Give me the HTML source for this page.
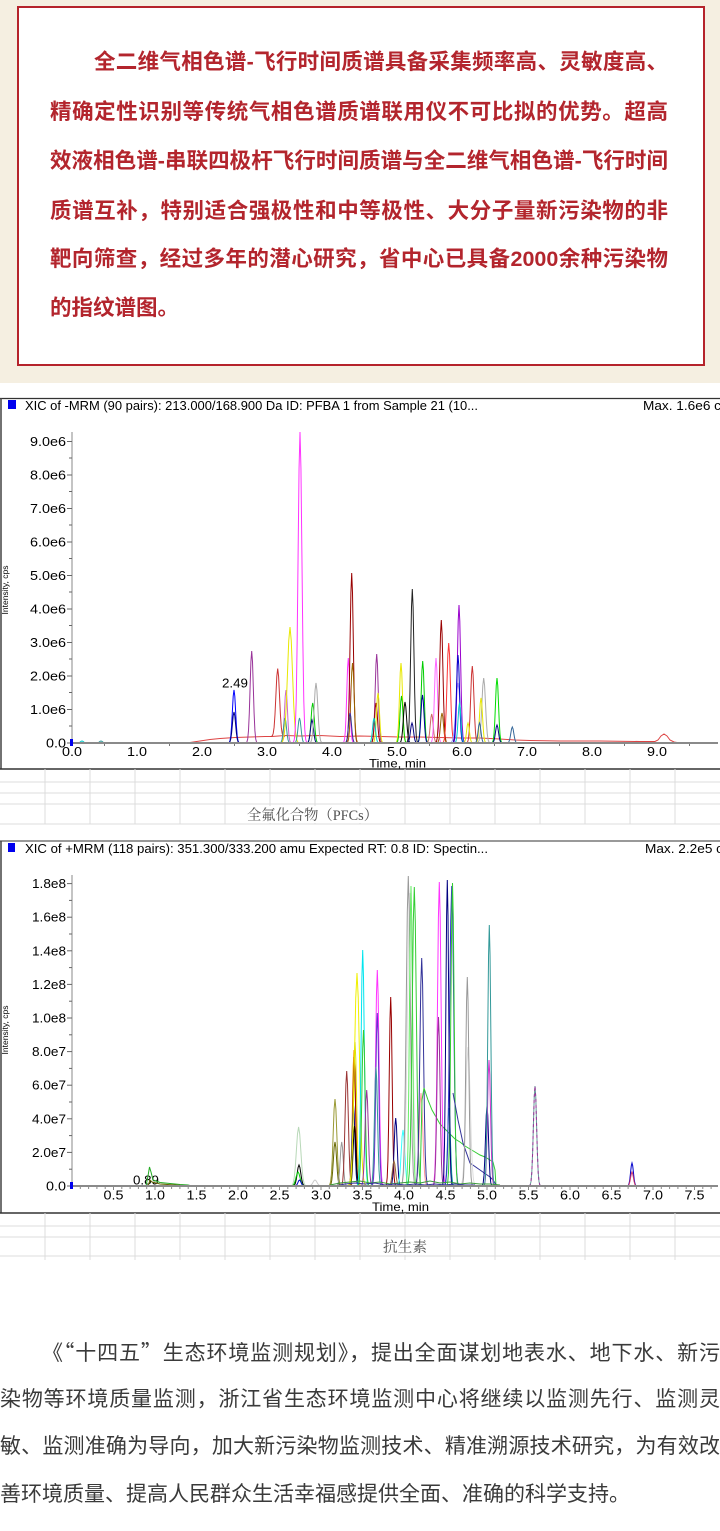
<!DOCTYPE html>
<html>
<head>
<meta charset="utf-8">
<style>
html,body{margin:0;padding:0;}
body{width:720px;height:1531px;position:relative;overflow:hidden;background:#fff;}
.beige{position:absolute;left:0;top:0;width:720px;height:383px;background:#f5efe1;}
.box{position:absolute;left:17px;top:6px;width:684px;height:356px;border:2px solid #b5232b;background:#fff;}
.tl{position:absolute;left:50px;width:618px;height:49px;line-height:49px;font-family:"Liberation Sans","Noto Sans CJK SC",sans-serif;font-weight:700;font-size:21.5px;color:#b3252d;text-align:justify;text-align-last:justify;}
.bl{position:absolute;left:0;width:720px;height:48px;line-height:48px;font-family:"Liberation Sans","Noto Sans CJK SC",sans-serif;font-size:21px;color:#3a3a3a;text-align:justify;text-align-last:justify;}
.cj{font-family:"Noto Sans CJK SC",sans-serif;}
svg{position:absolute;left:0;top:0;}
</style>
</head>
<body>
<div class="beige"></div>
<div class="box"></div>
<div class="tl" style="top:38px;padding-left:44px;width:574px;">全二维气相色谱-飞行时间质谱具备采集频率高、灵敏度高、</div>
<div class="tl" style="top:88px;">精确定性识别等传统气相色谱质谱联用仪不可比拟的优势。超高</div>
<div class="tl" style="top:137px;">效液相色谱-串联四极杆飞行时间质谱与全二维气相色谱-飞行时间</div>
<div class="tl" style="top:187px;">质谱互补，特别适合强极性和中等极性、大分子量新污染物的非</div>
<div class="tl" style="top:235px;">靶向筛查，经过多年的潜心研究，省中心已具备2000余种污染物</div>
<div class="tl" style="top:284px;text-align:left;text-align-last:left;">的指纹谱图。</div>

<svg width="720" height="1531" viewBox="0 0 720 1531" xmlns="http://www.w3.org/2000/svg">
<defs>
<path id="g" d="M-4 0L-3.5 -.002L-3 -.011L-2.5 -.044L-2 -.135L-1.5 -.325L-1 -.607L-.5 -.883L0 -1L.5 -.883L1 -.607L1.5 -.325L2 -.135L2.5 -.044L3 -.011L3.5 -.002L4 0" fill="none" vector-effect="non-scaling-stroke"/>
</defs>

<!-- ================= CHART 1 ================= -->
<g font-family="Liberation Sans, Arial, sans-serif" fill="#000">
<line x1="0" y1="398.5" x2="720" y2="398.5" stroke="#333" stroke-width="1.2"/>
<line x1="1" y1="398" x2="1" y2="769" stroke="#444" stroke-width="1.5"/>
<line x1="0" y1="769" x2="720" y2="769" stroke="#333" stroke-width="1.5"/>
<rect x="8" y="400" width="8" height="9" fill="#0000ee"/>
<text x="25" y="410" font-size="12.5" textLength="453" lengthAdjust="spacingAndGlyphs">XIC of -MRM (90 pairs): 213.000/168.900 Da ID: PFBA 1 from Sample 21 (10...</text>
<text x="643" y="410" font-size="12.5" textLength="78" lengthAdjust="spacingAndGlyphs">Max. 1.6e6 c</text>

<text transform="translate(8 590) rotate(-90)" text-anchor="middle" font-size="8.5">Intensity, cps</text>

<line x1="72" y1="432" x2="72" y2="743" stroke="#888" stroke-width="1"/>
<g stroke="#666" stroke-width="1">
<line x1="67" y1="743" x2="72" y2="743"/><line x1="67" y1="709.5" x2="72" y2="709.5"/><line x1="67" y1="676" x2="72" y2="676"/><line x1="67" y1="642.5" x2="72" y2="642.5"/><line x1="67" y1="609" x2="72" y2="609"/><line x1="67" y1="575.5" x2="72" y2="575.5"/><line x1="67" y1="542" x2="72" y2="542"/><line x1="67" y1="508.5" x2="72" y2="508.5"/><line x1="67" y1="475" x2="72" y2="475"/><line x1="67" y1="441.5" x2="72" y2="441.5"/>
<line x1="69" y1="726" x2="72" y2="726"/><line x1="69" y1="692.5" x2="72" y2="692.5"/><line x1="69" y1="659" x2="72" y2="659"/><line x1="69" y1="625.5" x2="72" y2="625.5"/><line x1="69" y1="592" x2="72" y2="592"/><line x1="69" y1="558.5" x2="72" y2="558.5"/><line x1="69" y1="525" x2="72" y2="525"/><line x1="69" y1="491.5" x2="72" y2="491.5"/><line x1="69" y1="458" x2="72" y2="458"/>
</g>
<g font-size="12.5" text-anchor="end">
<text x="66" y="747.5" textLength="20" lengthAdjust="spacingAndGlyphs">0.0</text>
<text x="66" y="714" textLength="36" lengthAdjust="spacingAndGlyphs">1.0e6</text>
<text x="66" y="680.5" textLength="36" lengthAdjust="spacingAndGlyphs">2.0e6</text>
<text x="66" y="647" textLength="36" lengthAdjust="spacingAndGlyphs">3.0e6</text>
<text x="66" y="613.5" textLength="36" lengthAdjust="spacingAndGlyphs">4.0e6</text>
<text x="66" y="580" textLength="36" lengthAdjust="spacingAndGlyphs">5.0e6</text>
<text x="66" y="546.5" textLength="36" lengthAdjust="spacingAndGlyphs">6.0e6</text>
<text x="66" y="513" textLength="36" lengthAdjust="spacingAndGlyphs">7.0e6</text>
<text x="66" y="479.5" textLength="36" lengthAdjust="spacingAndGlyphs">8.0e6</text>
<text x="66" y="446" textLength="36" lengthAdjust="spacingAndGlyphs">9.0e6</text>
</g>
<g font-size="12.5" text-anchor="middle">
<text x="72" y="756" textLength="20" lengthAdjust="spacingAndGlyphs">0.0</text>
<text x="137" y="756" textLength="20" lengthAdjust="spacingAndGlyphs">1.0</text>
<text x="202" y="756" textLength="20" lengthAdjust="spacingAndGlyphs">2.0</text>
<text x="267" y="756" textLength="20" lengthAdjust="spacingAndGlyphs">3.0</text>
<text x="332" y="756" textLength="20" lengthAdjust="spacingAndGlyphs">4.0</text>
<text x="397" y="756" textLength="20" lengthAdjust="spacingAndGlyphs">5.0</text>
<text x="462" y="756" textLength="20" lengthAdjust="spacingAndGlyphs">6.0</text>
<text x="527" y="756" textLength="20" lengthAdjust="spacingAndGlyphs">7.0</text>
<text x="592" y="756" textLength="20" lengthAdjust="spacingAndGlyphs">8.0</text>
<text x="657" y="756" textLength="20" lengthAdjust="spacingAndGlyphs">9.0</text>
</g>
<text x="369" y="767.5" font-size="12" textLength="57" lengthAdjust="spacingAndGlyphs">Time, min</text>
<text x="222" y="687.5" font-size="12.5" textLength="26" lengthAdjust="spacingAndGlyphs">2.49</text>
</g>

<g stroke-width="1" fill="none">
<use href="#g" transform="translate(82 743) scale(1.5 2)" stroke="#00cccc"/>
<use href="#g" transform="translate(101 743) scale(1.5 2)" stroke="#339999"/>
<path d="M180 743L190 742.5L200 741L210 739.5L220 738.5L235 737.5L250 737L265 736.5L272 736.5L285 735.5L300 736L320 735.5L340 736.5L360 736L380 736.5L400 737L420 737L440 737.5L460 738L480 738L500 739L515 740L530 740.5L560 741L600 741L640 741.5L655 741.5L658 740L661 736L664 734L667 736L670 740L674 742L680 743" stroke="#dd4444"/>
<use href="#g" transform="translate(234 743) scale(1.6 53)" stroke="#0000ff"/>
<use href="#g" transform="translate(234 743) scale(1.6 31)" stroke="#000080"/>
<use href="#g" transform="translate(251.7 743) scale(1.6 92)" stroke="#993399"/>
<use href="#g" transform="translate(277.7 736.5) scale(1.8 68)" stroke="#cc3333"/>
<use href="#g" transform="translate(286 743) scale(1.5 53)" stroke="#cc66cc"/>
<use href="#g" transform="translate(285 743) scale(1.5 25)" stroke="#339999"/>
<use href="#g" transform="translate(290 743) scale(2.5 116)" stroke="#e8e800"/>
<use href="#g" transform="translate(300 743) scale(1.9 311)" stroke="#ff33ff"/>
<use href="#g" transform="translate(299.5 743) scale(1.5 25)" stroke="#339999"/>
<use href="#g" transform="translate(312.7 743) scale(1.6 40)" stroke="#00cc00"/>
<use href="#g" transform="translate(312 743) scale(1.5 23)" stroke="#000080"/>
<use href="#g" transform="translate(316 743) scale(1.8 60)" stroke="#aaaaaa"/>
<use href="#g" transform="translate(348.3 743) scale(1.5 85)" stroke="#ff33ff"/>
<use href="#g" transform="translate(351.7 743) scale(1.6 170)" stroke="#990000"/>
<use href="#g" transform="translate(352.5 743) scale(1.6 80)" stroke="#996600"/>
<use href="#g" transform="translate(350 743) scale(1.5 30)" stroke="#333399"/>
<use href="#g" transform="translate(376.7 743) scale(1.5 89)" stroke="#993399"/>
<use href="#g" transform="translate(376 743) scale(1.5 40)" stroke="#990000"/>
<use href="#g" transform="translate(378 743) scale(1.5 50)" stroke="#e8e800"/>
<use href="#g" transform="translate(374 743) scale(1.4 25)" stroke="#00cccc"/>
<use href="#g" transform="translate(401 743) scale(1.5 80)" stroke="#e8e800"/>
<use href="#g" transform="translate(401.5 743) scale(1.5 47)" stroke="#00cc00"/>
<use href="#g" transform="translate(405 743) scale(1.6 41)" stroke="#000000"/>
<use href="#g" transform="translate(412.3 743) scale(1.6 154)" stroke="#222222"/>
<use href="#g" transform="translate(412 743) scale(1.5 20)" stroke="#000080"/>
<use href="#g" transform="translate(422.7 743) scale(1.5 82)" stroke="#00cc00"/>
<use href="#g" transform="translate(422.5 743) scale(1.5 48)" stroke="#000099"/>
<use href="#g" transform="translate(431.7 743) scale(1.5 29)" stroke="#cc6666"/>
<use href="#g" transform="translate(436 743) scale(1.5 85)" stroke="#ff66ff"/>
<use href="#g" transform="translate(441.3 743) scale(1.6 123)" stroke="#990000"/>
<use href="#g" transform="translate(442 743) scale(1.5 30)" stroke="#996600"/>
<use href="#g" transform="translate(448.7 743) scale(1.7 100)" stroke="#ff3333"/>
<use href="#g" transform="translate(458 743) scale(2.2 60)" stroke="#9999ff"/>
<use href="#g" transform="translate(459 743) scale(1.6 138)" stroke="#9900cc"/>
<use href="#g" transform="translate(458 743) scale(1.5 88)" stroke="#0000cc"/>
<use href="#g" transform="translate(459.5 743) scale(1.4 40)" stroke="#00cccc"/>
<use href="#g" transform="translate(472.3 743) scale(1.6 77)" stroke="#cc3333"/>
<use href="#g" transform="translate(468 743) scale(1.4 20)" stroke="#e8e800"/>
<use href="#g" transform="translate(483.7 743) scale(1.8 65)" stroke="#aaaaaa"/>
<use href="#g" transform="translate(481 743) scale(1.5 45)" stroke="#e8e800"/>
<use href="#g" transform="translate(479.5 743) scale(1.4 20)" stroke="#336699"/>
<use href="#g" transform="translate(497 743) scale(1.5 65)" stroke="#00dd00"/>
<use href="#g" transform="translate(497 743) scale(1.5 18)" stroke="#000080"/>
<use href="#g" transform="translate(512.3 743) scale(1.5 16)" stroke="#336699"/>
</g>
<line x1="72" y1="743" x2="718" y2="743" stroke="#8a8a8a" stroke-width="2"/>
<g stroke="#777" stroke-width="1">
<line x1="104.5" y1="744" x2="104.5" y2="746"/><line x1="169.5" y1="744" x2="169.5" y2="746"/><line x1="234.5" y1="744" x2="234.5" y2="746"/><line x1="299.5" y1="744" x2="299.5" y2="746"/><line x1="364.5" y1="744" x2="364.5" y2="746"/><line x1="429.5" y1="744" x2="429.5" y2="746"/><line x1="494.5" y1="744" x2="494.5" y2="746"/><line x1="559.5" y1="744" x2="559.5" y2="746"/><line x1="624.5" y1="744" x2="624.5" y2="746"/><line x1="689.5" y1="744" x2="689.5" y2="746"/>
</g>
<rect x="70" y="739" width="3" height="7" fill="#0000ee"/>

<!-- grid 1 -->
<g stroke="#dcdcdc" stroke-width="1">
<line x1="0" y1="782" x2="720" y2="782"/><line x1="0" y1="793" x2="720" y2="793"/><line x1="0" y1="804" x2="720" y2="804"/><line x1="0" y1="824" x2="720" y2="824"/>
<line x1="45" y1="769" x2="45" y2="824"/><line x1="90" y1="769" x2="90" y2="824"/><line x1="135" y1="769" x2="135" y2="824"/><line x1="180" y1="769" x2="180" y2="824"/><line x1="225" y1="769" x2="225" y2="824"/><line x1="270" y1="769" x2="270" y2="824"/><line x1="315" y1="769" x2="315" y2="824"/><line x1="360" y1="769" x2="360" y2="824"/><line x1="405" y1="769" x2="405" y2="824"/><line x1="450" y1="769" x2="450" y2="824"/><line x1="495" y1="769" x2="495" y2="824"/><line x1="540" y1="769" x2="540" y2="824"/><line x1="585" y1="769" x2="585" y2="824"/><line x1="630" y1="769" x2="630" y2="824"/><line x1="675" y1="769" x2="675" y2="824"/>
</g>
<rect x="246" y="806" width="134" height="17" fill="#fff"/>
<text x="247" y="820" font-family="Liberation Serif, Noto Serif CJK SC, serif" font-size="14.5" fill="#505050" textLength="131" lengthAdjust="spacingAndGlyphs">全氟化合物（PFCs）</text>

<!-- ================= CHART 2 ================= -->
<g font-family="Liberation Sans, Arial, sans-serif" fill="#000">
<line x1="0" y1="841" x2="720" y2="841" stroke="#999" stroke-width="2"/>
<line x1="1" y1="841" x2="1" y2="1213" stroke="#444" stroke-width="1.5"/>
<line x1="0" y1="1213" x2="720" y2="1213" stroke="#333" stroke-width="1.5"/>
<rect x="8" y="843" width="7" height="9" fill="#0000ee"/>
<text x="25" y="853" font-size="12.5" textLength="463" lengthAdjust="spacingAndGlyphs">XIC of +MRM (118 pairs): 351.300/333.200 amu Expected RT: 0.8 ID: Spectin...</text>
<text x="645" y="853" font-size="12.5" textLength="78" lengthAdjust="spacingAndGlyphs">Max. 2.2e5 c</text>

<text transform="translate(8 1030) rotate(-90)" text-anchor="middle" font-size="8.5">Intensity, cps</text>

<line x1="72" y1="875" x2="72" y2="1186" stroke="#888" stroke-width="1"/>
<g stroke="#666" stroke-width="1">
<line x1="67" y1="1186" x2="72" y2="1186"/><line x1="67" y1="1152.4" x2="72" y2="1152.4"/><line x1="67" y1="1118.8" x2="72" y2="1118.8"/><line x1="67" y1="1085.2" x2="72" y2="1085.2"/><line x1="67" y1="1051.6" x2="72" y2="1051.6"/><line x1="67" y1="1018" x2="72" y2="1018"/><line x1="67" y1="984.4" x2="72" y2="984.4"/><line x1="67" y1="950.8" x2="72" y2="950.8"/><line x1="67" y1="917.2" x2="72" y2="917.2"/><line x1="67" y1="883.6" x2="72" y2="883.6"/>
<line x1="69" y1="1169.2" x2="72" y2="1169.2"/><line x1="69" y1="1135.6" x2="72" y2="1135.6"/><line x1="69" y1="1102" x2="72" y2="1102"/><line x1="69" y1="1068.4" x2="72" y2="1068.4"/><line x1="69" y1="1034.8" x2="72" y2="1034.8"/><line x1="69" y1="1001.2" x2="72" y2="1001.2"/><line x1="69" y1="967.6" x2="72" y2="967.6"/><line x1="69" y1="934" x2="72" y2="934"/><line x1="69" y1="900.4" x2="72" y2="900.4"/>
</g>
<g font-size="12.5" text-anchor="end">
<text x="66" y="1190.5" textLength="20" lengthAdjust="spacingAndGlyphs">0.0</text>
<text x="66" y="1156.9" textLength="34" lengthAdjust="spacingAndGlyphs">2.0e7</text>
<text x="66" y="1123.3" textLength="34" lengthAdjust="spacingAndGlyphs">4.0e7</text>
<text x="66" y="1089.7" textLength="34" lengthAdjust="spacingAndGlyphs">6.0e7</text>
<text x="66" y="1056.1" textLength="34" lengthAdjust="spacingAndGlyphs">8.0e7</text>
<text x="66" y="1022.5" textLength="34" lengthAdjust="spacingAndGlyphs">1.0e8</text>
<text x="66" y="988.9" textLength="34" lengthAdjust="spacingAndGlyphs">1.2e8</text>
<text x="66" y="955.3" textLength="34" lengthAdjust="spacingAndGlyphs">1.4e8</text>
<text x="66" y="921.7" textLength="34" lengthAdjust="spacingAndGlyphs">1.6e8</text>
<text x="66" y="888.1" textLength="34" lengthAdjust="spacingAndGlyphs">1.8e8</text>
</g>
<g font-size="12.5" text-anchor="middle">
<text x="113.5" y="1199.5" textLength="20" lengthAdjust="spacingAndGlyphs">0.5</text>
<text x="155" y="1199.5" textLength="20" lengthAdjust="spacingAndGlyphs">1.0</text>
<text x="196.5" y="1199.5" textLength="20" lengthAdjust="spacingAndGlyphs">1.5</text>
<text x="238" y="1199.5" textLength="20" lengthAdjust="spacingAndGlyphs">2.0</text>
<text x="279.5" y="1199.5" textLength="20" lengthAdjust="spacingAndGlyphs">2.5</text>
<text x="321" y="1199.5" textLength="20" lengthAdjust="spacingAndGlyphs">3.0</text>
<text x="362.5" y="1199.5" textLength="20" lengthAdjust="spacingAndGlyphs">3.5</text>
<text x="404" y="1199.5" textLength="20" lengthAdjust="spacingAndGlyphs">4.0</text>
<text x="445.5" y="1199.5" textLength="20" lengthAdjust="spacingAndGlyphs">4.5</text>
<text x="487" y="1199.5" textLength="20" lengthAdjust="spacingAndGlyphs">5.0</text>
<text x="528.5" y="1199.5" textLength="20" lengthAdjust="spacingAndGlyphs">5.5</text>
<text x="570" y="1199.5" textLength="20" lengthAdjust="spacingAndGlyphs">6.0</text>
<text x="611.5" y="1199.5" textLength="20" lengthAdjust="spacingAndGlyphs">6.5</text>
<text x="653" y="1199.5" textLength="20" lengthAdjust="spacingAndGlyphs">7.0</text>
<text x="694.5" y="1199.5" textLength="20" lengthAdjust="spacingAndGlyphs">7.5</text>
</g>
<text x="372" y="1211" font-size="12" textLength="57" lengthAdjust="spacingAndGlyphs">Time, min</text>
<text x="133" y="1184.5" font-size="12.5" textLength="26" lengthAdjust="spacingAndGlyphs">0.89</text>
</g>

<g stroke-width="1" fill="none">
<path d="M146 1186L148 1176L149.5 1167L151 1172L153 1180L160 1182.5L170 1183.5L180 1184.5L188 1185L192 1186" stroke="#22aa22"/>
<path d="M148 1186L150 1180L152 1182L160 1184L175 1185L190 1186" stroke="#666600"/>
<use href="#g" transform="translate(298.6 1186) scale(2.2 59)" stroke="#b8d8b8"/>
<use href="#g" transform="translate(299 1186) scale(1.8 21)" stroke="#000000"/>
<use href="#g" transform="translate(298 1186) scale(2 14)" stroke="#00cc00"/>
<use href="#g" transform="translate(299.5 1186) scale(1.5 6)" stroke="#0000cc"/>
<use href="#g" transform="translate(315 1186) scale(2 6)" stroke="#cccccc"/>
<use href="#g" transform="translate(335 1186) scale(1.8 87)" stroke="#999933"/>
<use href="#g" transform="translate(335 1186) scale(1.6 44)" stroke="#666600"/>
<use href="#g" transform="translate(341.7 1186) scale(1.5 44)" stroke="#999999"/>
<use href="#g" transform="translate(346.7 1186) scale(1.6 115)" stroke="#993333"/>
<use href="#g" transform="translate(354 1186) scale(1.5 136)" stroke="#ff9900"/>
<use href="#g" transform="translate(354.2 1186) scale(1.4 129)" stroke="#990000"/>
<use href="#g" transform="translate(353.5 1186) scale(1.4 81)" stroke="#000080"/>
<use href="#g" transform="translate(354.5 1186) scale(1.4 60)" stroke="#000000"/>
<use href="#g" transform="translate(357 1186) scale(2.5 213)" stroke="#f0f000"/>
<use href="#g" transform="translate(355 1186) scale(1.6 144)" stroke="#e0e000"/>
<use href="#g" transform="translate(362.7 1186) scale(1.6 236)" stroke="#00e5ee"/>
<use href="#g" transform="translate(363.5 1186) scale(1.6 156)" stroke="#33cc33"/>
<use href="#g" transform="translate(366.7 1186) scale(1.6 96)" stroke="#993399"/>
<use href="#g" transform="translate(377.3 1186) scale(1.7 216)" stroke="#ff33ff"/>
<use href="#g" transform="translate(377.3 1186) scale(1.5 173)" stroke="#6633cc"/>
<use href="#g" transform="translate(376 1186) scale(1.5 119)" stroke="#339999"/>
<use href="#g" transform="translate(390.7 1186) scale(1.4 189)" stroke="#990000"/>
<use href="#g" transform="translate(395.7 1186) scale(1.5 68)" stroke="#000080"/>
<use href="#g" transform="translate(394 1186) scale(1.6 25)" stroke="#996633"/>
<use href="#g" transform="translate(403 1186) scale(1.8 56)" stroke="#33ffff"/>
<use href="#g" transform="translate(410 1186) scale(2.5 293)" stroke="#dddddd"/>
<use href="#g" transform="translate(408.3 1186) scale(2 310)" stroke="#999999"/>
<use href="#g" transform="translate(411 1186) scale(1.5 300)" stroke="#66ee66"/>
<use href="#g" transform="translate(414.3 1186) scale(2 299)" stroke="#33cc33"/>
<use href="#g" transform="translate(421 1186) scale(1.8 93)" stroke="#ff9999"/>
<use href="#g" transform="translate(421.7 1186) scale(1.8 228)" stroke="#333399"/>
<path d="M420 1186L422 1100L424 1088L428 1100L432 1110L436 1117L440 1124L445 1129L450 1134L455 1139L460 1142L465 1146L470 1149L475 1152L480 1155L485 1157L490 1160L493 1162L495 1170L496 1186" stroke="#33cc33"/>
<use href="#g" transform="translate(439.3 1186) scale(1.8 304)" stroke="#ff33ff"/>
<use href="#g" transform="translate(438.5 1186) scale(1.5 169)" stroke="#993399"/>
<use href="#g" transform="translate(449 1186) scale(1.4 78)" stroke="#009999"/>
<use href="#g" transform="translate(451.7 1186) scale(2 300)" stroke="#3333cc"/>
<use href="#g" transform="translate(452.5 1186) scale(1.6 303)" stroke="#33cc33"/>
<use href="#g" transform="translate(447.3 1186) scale(1.4 306)" stroke="#000080"/>
<path d="M453 1093L458 1120L463 1143L470 1163L480 1170L490 1177L493 1180L497 1186" stroke="#333399"/>
<use href="#g" transform="translate(468 1186) scale(2.2 139)" stroke="#dddddd"/>
<use href="#g" transform="translate(467.3 1186) scale(1.5 209)" stroke="#999999"/>
<use href="#g" transform="translate(487 1186) scale(1.5 80)" stroke="#000080"/>
<use href="#g" transform="translate(489 1186) scale(1.5 126)" stroke="#cc33cc"/>
<use href="#g" transform="translate(489.3 1186) scale(1.5 261)" stroke="#339999"/>
<use href="#g" transform="translate(535 1186) scale(1.6 100)" stroke="#669999"/>
<use href="#g" transform="translate(535 1186) scale(1.6 100)" stroke="#993399" stroke-dasharray="3 3"/>
<use href="#g" transform="translate(632 1186) scale(1.4 23)" stroke="#0000cc"/>
<use href="#g" transform="translate(632 1186) scale(1.4 14)" stroke="#cc3366"/>
<path d="M330 1185L340 1183L350 1182L360 1181L370 1183L380 1182L390 1184L400 1183L410 1182L420 1183L430 1181L440 1183L450 1182L460 1184L470 1183L480 1184L490 1184L500 1185" stroke="#3a9a3a"/>
<path d="M335 1186L345 1184L355 1183L365 1184L375 1183L385 1185L395 1184L405 1185L415 1184L425 1185L435 1184L445 1185L455 1184L465 1185L475 1185" stroke="#333399"/>
</g>
<line x1="72" y1="1186" x2="718" y2="1186" stroke="#8a8a8a" stroke-width="2"/>
<g stroke="#888" stroke-width="1">
<line x1="80.3" y1="1187" x2="80.3" y2="1189"/><line x1="88.6" y1="1187" x2="88.6" y2="1189"/><line x1="96.9" y1="1187" x2="96.9" y2="1189"/><line x1="105.2" y1="1187" x2="105.2" y2="1189"/><line x1="113.5" y1="1187" x2="113.5" y2="1190"/>
<line x1="121.8" y1="1187" x2="121.8" y2="1189"/><line x1="130.1" y1="1187" x2="130.1" y2="1189"/><line x1="138.4" y1="1187" x2="138.4" y2="1189"/><line x1="146.7" y1="1187" x2="146.7" y2="1189"/><line x1="155" y1="1187" x2="155" y2="1190"/>
<line x1="163.3" y1="1187" x2="163.3" y2="1189"/><line x1="171.6" y1="1187" x2="171.6" y2="1189"/><line x1="179.9" y1="1187" x2="179.9" y2="1189"/><line x1="188.2" y1="1187" x2="188.2" y2="1189"/><line x1="196.5" y1="1187" x2="196.5" y2="1190"/>
<line x1="204.8" y1="1187" x2="204.8" y2="1189"/><line x1="213.1" y1="1187" x2="213.1" y2="1189"/><line x1="221.4" y1="1187" x2="221.4" y2="1189"/><line x1="229.7" y1="1187" x2="229.7" y2="1189"/><line x1="238" y1="1187" x2="238" y2="1190"/>
<line x1="246.3" y1="1187" x2="246.3" y2="1189"/><line x1="254.6" y1="1187" x2="254.6" y2="1189"/><line x1="262.9" y1="1187" x2="262.9" y2="1189"/><line x1="271.2" y1="1187" x2="271.2" y2="1189"/><line x1="279.5" y1="1187" x2="279.5" y2="1190"/>
<line x1="287.8" y1="1187" x2="287.8" y2="1189"/><line x1="296.1" y1="1187" x2="296.1" y2="1189"/><line x1="304.4" y1="1187" x2="304.4" y2="1189"/><line x1="312.7" y1="1187" x2="312.7" y2="1189"/><line x1="321" y1="1187" x2="321" y2="1190"/>
<line x1="329.3" y1="1187" x2="329.3" y2="1189"/><line x1="337.6" y1="1187" x2="337.6" y2="1189"/><line x1="345.9" y1="1187" x2="345.9" y2="1189"/><line x1="354.2" y1="1187" x2="354.2" y2="1189"/><line x1="362.5" y1="1187" x2="362.5" y2="1190"/>
<line x1="370.8" y1="1187" x2="370.8" y2="1189"/><line x1="379.1" y1="1187" x2="379.1" y2="1189"/><line x1="387.4" y1="1187" x2="387.4" y2="1189"/><line x1="395.7" y1="1187" x2="395.7" y2="1189"/><line x1="404" y1="1187" x2="404" y2="1190"/>
<line x1="412.3" y1="1187" x2="412.3" y2="1189"/><line x1="420.6" y1="1187" x2="420.6" y2="1189"/><line x1="428.9" y1="1187" x2="428.9" y2="1189"/><line x1="437.2" y1="1187" x2="437.2" y2="1189"/><line x1="445.5" y1="1187" x2="445.5" y2="1190"/>
<line x1="453.8" y1="1187" x2="453.8" y2="1189"/><line x1="462.1" y1="1187" x2="462.1" y2="1189"/><line x1="470.4" y1="1187" x2="470.4" y2="1189"/><line x1="478.7" y1="1187" x2="478.7" y2="1189"/><line x1="487" y1="1187" x2="487" y2="1190"/>
<line x1="495.3" y1="1187" x2="495.3" y2="1189"/><line x1="503.6" y1="1187" x2="503.6" y2="1189"/><line x1="511.9" y1="1187" x2="511.9" y2="1189"/><line x1="520.2" y1="1187" x2="520.2" y2="1189"/><line x1="528.5" y1="1187" x2="528.5" y2="1190"/>
<line x1="536.8" y1="1187" x2="536.8" y2="1189"/><line x1="545.1" y1="1187" x2="545.1" y2="1189"/><line x1="553.4" y1="1187" x2="553.4" y2="1189"/><line x1="561.7" y1="1187" x2="561.7" y2="1189"/><line x1="570" y1="1187" x2="570" y2="1190"/>
<line x1="578.3" y1="1187" x2="578.3" y2="1189"/><line x1="586.6" y1="1187" x2="586.6" y2="1189"/><line x1="594.9" y1="1187" x2="594.9" y2="1189"/><line x1="603.2" y1="1187" x2="603.2" y2="1189"/><line x1="611.5" y1="1187" x2="611.5" y2="1190"/>
<line x1="619.8" y1="1187" x2="619.8" y2="1189"/><line x1="628.1" y1="1187" x2="628.1" y2="1189"/><line x1="636.4" y1="1187" x2="636.4" y2="1189"/><line x1="644.7" y1="1187" x2="644.7" y2="1189"/><line x1="653" y1="1187" x2="653" y2="1190"/>
<line x1="661.3" y1="1187" x2="661.3" y2="1189"/><line x1="669.6" y1="1187" x2="669.6" y2="1189"/><line x1="677.9" y1="1187" x2="677.9" y2="1189"/><line x1="686.2" y1="1187" x2="686.2" y2="1189"/><line x1="694.5" y1="1187" x2="694.5" y2="1190"/>
<line x1="702.8" y1="1187" x2="702.8" y2="1189"/><line x1="711.1" y1="1187" x2="711.1" y2="1189"/>
</g>
<rect x="70" y="1182" width="3" height="7" fill="#0000ee"/>

<!-- grid 2 -->
<g stroke="#dcdcdc" stroke-width="1">
<line x1="0" y1="1226" x2="720" y2="1226"/><line x1="0" y1="1237" x2="720" y2="1237"/><line x1="0" y1="1256" x2="720" y2="1256"/>
<line x1="45" y1="1213" x2="45" y2="1260"/><line x1="90" y1="1213" x2="90" y2="1260"/><line x1="135" y1="1213" x2="135" y2="1260"/><line x1="180" y1="1213" x2="180" y2="1260"/><line x1="225" y1="1213" x2="225" y2="1260"/><line x1="270" y1="1213" x2="270" y2="1260"/><line x1="315" y1="1213" x2="315" y2="1260"/><line x1="360" y1="1213" x2="360" y2="1260"/><line x1="405" y1="1213" x2="405" y2="1260"/><line x1="450" y1="1213" x2="450" y2="1260"/><line x1="495" y1="1213" x2="495" y2="1260"/><line x1="540" y1="1213" x2="540" y2="1260"/><line x1="585" y1="1213" x2="585" y2="1260"/><line x1="630" y1="1213" x2="630" y2="1260"/><line x1="675" y1="1213" x2="675" y2="1260"/>
</g>
<rect x="381" y="1239" width="48" height="16" fill="#fff"/>
<text x="383" y="1252" font-family="Liberation Serif, Noto Serif CJK SC, serif" font-size="14.5" fill="#505050" textLength="44" lengthAdjust="spacingAndGlyphs">抗生素</text>
</svg>

<div class="bl" style="top:1328px;padding-left:42px;width:678px;">《<span class="cj">“</span>十四五<span class="cj">”</span>生态环境监测规划》，提出全面谋划地表水、地下水、新污</div>
<div class="bl" style="top:1376px;">染物等环境质量监测，浙江省生态环境监测中心将继续以监测先行、监测灵</div>
<div class="bl" style="top:1423px;">敏、监测准确为导向，加大新污染物监测技术、精准溯源技术研究，为有效改</div>
<div class="bl" style="top:1471px;text-align:left;text-align-last:left;">善环境质量、提高人民群众生活幸福感提供全面、准确的科学支持。</div>
</body>
</html>
